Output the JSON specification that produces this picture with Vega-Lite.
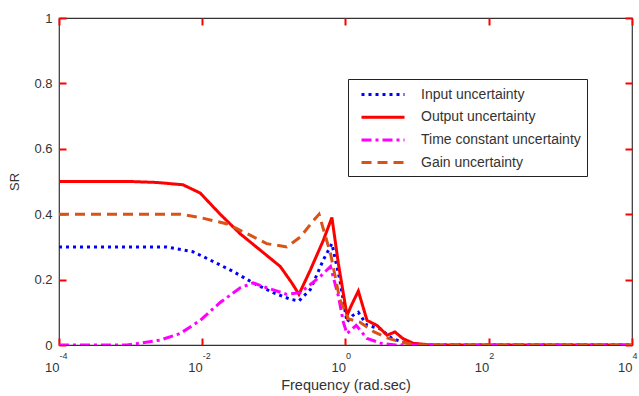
{
  "$schema": "https://vega.github.io/schema/vega-lite/v6.json",
  "width": 573,
  "height": 327,
  "autosize": {"type": "none"},
  "padding": {"left": 59, "top": 18, "right": 7, "bottom": 51},
  "background": "white",
  "config": {
    "font": "Liberation Sans",
    "view": {"stroke": "#333", "strokeWidth": 1.2},
    "axis": {"grid": false, "domain": false, "labelColor": "#333", "titleColor": "#333", "labelFont": "Liberation Sans", "titleFont": "Liberation Sans", "titleFontWeight": "normal", "labelFontSize": 13, "titleFontSize": 14.5}
  },
  "datasets": {
    "curves": [
      {"f": 0.0001, "v": 0.3, "s": "Input uncertainty"},
      {"f": 0.00316, "v": 0.3, "s": "Input uncertainty"},
      {"f": 0.00741, "v": 0.285, "s": "Input uncertainty"},
      {"f": 0.0129, "v": 0.26, "s": "Input uncertainty"},
      {"f": 0.0269, "v": 0.225, "s": "Input uncertainty"},
      {"f": 0.0513, "v": 0.19, "s": "Input uncertainty"},
      {"f": 0.0977, "v": 0.16, "s": "Input uncertainty"},
      {"f": 0.17, "v": 0.14, "s": "Input uncertainty"},
      {"f": 0.224, "v": 0.135, "s": "Input uncertainty"},
      {"f": 0.324, "v": 0.17, "s": "Input uncertainty"},
      {"f": 0.49, "v": 0.26, "s": "Input uncertainty"},
      {"f": 0.646, "v": 0.31, "s": "Input uncertainty"},
      {"f": 0.832, "v": 0.2, "s": "Input uncertainty"},
      {"f": 1.05, "v": 0.07, "s": "Input uncertainty"},
      {"f": 1.26, "v": 0.09, "s": "Input uncertainty"},
      {"f": 1.51, "v": 0.1, "s": "Input uncertainty"},
      {"f": 2.0, "v": 0.06, "s": "Input uncertainty"},
      {"f": 3.02, "v": 0.05, "s": "Input uncertainty"},
      {"f": 4.47, "v": 0.02, "s": "Input uncertainty"},
      {"f": 7.08, "v": 0.005, "s": "Input uncertainty"},
      {"f": 15, "v": 0.0, "s": "Input uncertainty"},
      {"f": 10000, "v": 0.0, "s": "Input uncertainty"},

      {"f": 0.0001, "v": 0.5, "s": "Output uncertainty"},
      {"f": 0.001, "v": 0.5, "s": "Output uncertainty"},
      {"f": 0.00234, "v": 0.497, "s": "Output uncertainty"},
      {"f": 0.00537, "v": 0.49, "s": "Output uncertainty"},
      {"f": 0.00933, "v": 0.465, "s": "Output uncertainty"},
      {"f": 0.0178, "v": 0.4, "s": "Output uncertainty"},
      {"f": 0.0339, "v": 0.34, "s": "Output uncertainty"},
      {"f": 0.0646, "v": 0.29, "s": "Output uncertainty"},
      {"f": 0.123, "v": 0.24, "s": "Output uncertainty"},
      {"f": 0.178, "v": 0.19, "s": "Output uncertainty"},
      {"f": 0.224, "v": 0.155, "s": "Output uncertainty"},
      {"f": 0.324, "v": 0.23, "s": "Output uncertainty"},
      {"f": 0.49, "v": 0.32, "s": "Output uncertainty"},
      {"f": 0.646, "v": 0.39, "s": "Output uncertainty"},
      {"f": 0.794, "v": 0.25, "s": "Output uncertainty"},
      {"f": 1.05, "v": 0.09, "s": "Output uncertainty"},
      {"f": 1.2, "v": 0.12, "s": "Output uncertainty"},
      {"f": 1.51, "v": 0.165, "s": "Output uncertainty"},
      {"f": 2.0, "v": 0.075, "s": "Output uncertainty"},
      {"f": 2.75, "v": 0.06, "s": "Output uncertainty"},
      {"f": 3.8, "v": 0.03, "s": "Output uncertainty"},
      {"f": 4.9, "v": 0.04, "s": "Output uncertainty"},
      {"f": 6.3, "v": 0.02, "s": "Output uncertainty"},
      {"f": 8.9, "v": 0.005, "s": "Output uncertainty"},
      {"f": 16, "v": 0.0, "s": "Output uncertainty"},
      {"f": 10000, "v": 0.0, "s": "Output uncertainty"},

      {"f": 0.0001, "v": 0.0, "s": "Time constant uncertainty"},
      {"f": 0.00089, "v": 0.0, "s": "Time constant uncertainty"},
      {"f": 0.00257, "v": 0.015, "s": "Time constant uncertainty"},
      {"f": 0.0049, "v": 0.035, "s": "Time constant uncertainty"},
      {"f": 0.00933, "v": 0.075, "s": "Time constant uncertainty"},
      {"f": 0.0178, "v": 0.13, "s": "Time constant uncertainty"},
      {"f": 0.0339, "v": 0.175, "s": "Time constant uncertainty"},
      {"f": 0.0513, "v": 0.19, "s": "Time constant uncertainty"},
      {"f": 0.0794, "v": 0.175, "s": "Time constant uncertainty"},
      {"f": 0.151, "v": 0.155, "s": "Time constant uncertainty"},
      {"f": 0.234, "v": 0.16, "s": "Time constant uncertainty"},
      {"f": 0.447, "v": 0.21, "s": "Time constant uncertainty"},
      {"f": 0.617, "v": 0.24, "s": "Time constant uncertainty"},
      {"f": 0.794, "v": 0.15, "s": "Time constant uncertainty"},
      {"f": 0.933, "v": 0.07, "s": "Time constant uncertainty"},
      {"f": 1.05, "v": 0.035, "s": "Time constant uncertainty"},
      {"f": 1.41, "v": 0.06, "s": "Time constant uncertainty"},
      {"f": 2.0, "v": 0.02, "s": "Time constant uncertainty"},
      {"f": 3.16, "v": 0.005, "s": "Time constant uncertainty"},
      {"f": 5.0, "v": 0.0, "s": "Time constant uncertainty"},
      {"f": 10000, "v": 0.0, "s": "Time constant uncertainty"},

      {"f": 0.0001, "v": 0.4, "s": "Gain uncertainty"},
      {"f": 0.005, "v": 0.4, "s": "Gain uncertainty"},
      {"f": 0.00933, "v": 0.39, "s": "Gain uncertainty"},
      {"f": 0.0224, "v": 0.37, "s": "Gain uncertainty"},
      {"f": 0.0427, "v": 0.34, "s": "Gain uncertainty"},
      {"f": 0.0794, "v": 0.31, "s": "Gain uncertainty"},
      {"f": 0.151, "v": 0.3, "s": "Gain uncertainty"},
      {"f": 0.234, "v": 0.33, "s": "Gain uncertainty"},
      {"f": 0.355, "v": 0.38, "s": "Gain uncertainty"},
      {"f": 0.427, "v": 0.4, "s": "Gain uncertainty"},
      {"f": 0.617, "v": 0.28, "s": "Gain uncertainty"},
      {"f": 0.832, "v": 0.14, "s": "Gain uncertainty"},
      {"f": 1.1, "v": 0.08, "s": "Gain uncertainty"},
      {"f": 1.58, "v": 0.07, "s": "Gain uncertainty"},
      {"f": 2.51, "v": 0.04, "s": "Gain uncertainty"},
      {"f": 3.98, "v": 0.02, "s": "Gain uncertainty"},
      {"f": 7.08, "v": 0.005, "s": "Gain uncertainty"},
      {"f": 11.2, "v": 0.0, "s": "Gain uncertainty"},
      {"f": 10000, "v": 0.0, "s": "Gain uncertainty"}
    ]
  },
  "data": {"name": "curves"},
  "resolve": {"axis": {"x": "independent", "y": "independent"}},
  "layer": [
    {
      "mark": {"type": "line", "strokeWidth": 3, "clip": true},
      "encoding": {
        "x": {
          "field": "f", "type": "quantitative",
          "scale": {"type": "log", "domain": [0.0001, 10000], "nice": false},
          "axis": {
            "orient": "bottom",
            "title": "Frequency (rad.sec)",
            "values": [0.0001, 0.01, 1, 100, 10000],
            "tickColor": "red", "tickSize": 7, "tickWidth": 2, "offset": -7,
            "labelPadding": 16,
            "labelAlign": "right",
            "labelDx": 3,
            "titlePadding": 4,
            "labelFlush": false,
            "labelOverlap": false,
            "labelExpr": "'10'"
          }
        },
        "y": {
          "field": "v", "type": "quantitative",
          "scale": {"domain": [0, 1], "nice": false},
          "axis": {
            "orient": "left",
            "title": "SR",
            "values": [0, 0.2, 0.4, 0.6, 0.8, 1],
            "tickColor": "red", "tickSize": 7, "tickWidth": 2, "offset": -7,
            "labelPadding": 7,
            "titlePadding": 12,
            "titleFontSize": 13,
            "format": "~g"
          }
        },
        "color": {
          "field": "s", "type": "nominal",
          "scale": {
            "domain": ["Input uncertainty", "Output uncertainty", "Time constant uncertainty", "Gain uncertainty"],
            "range": ["#0000ff", "#ff0000", "#ff00ff", "#d95319"]
          },
          "legend": {
            "title": null,
            "orient": "none",
            "legendX": 289,
            "legendY": 61,
            "symbolType": "M-0.25,0H5.125",
            "symbolSize": 256,
            "symbolStrokeWidth": 3,
            "labelFont": "Liberation Sans",
            "labelFontSize": 14,
            "labelColor": "#333",
            "labelOffset": 48,
            "rowPadding": 5.7,
            "padding": 6,
            "strokeColor": "#222",
            "fillColor": "white",
            "labelLimit": 300
          }
        },
        "strokeDash": {
          "field": "s", "type": "nominal",
          "scale": {
            "domain": ["Input uncertainty", "Output uncertainty", "Time constant uncertainty", "Gain uncertainty"],
            "range": [[3, 4], [1, 0], [10, 4, 3, 4], [10, 6]]
          },
          "legend": {"title": null}
        }
      }
    },
    {
      "mark": {"type": "point", "opacity": 0, "size": 0},
      "encoding": {
        "x": {
          "field": "f", "type": "quantitative",
          "scale": {"type": "log", "domain": [0.0001, 10000], "nice": false},
          "axis": {
            "orient": "bottom",
            "title": null,
            "ticks": false,
            "offset": 0,
            "values": [0.0001, 0.01, 1, 100, 10000],
            "labelPadding": 6,
            "labelAlign": "left",
            "labelDx": 4,
            "labelFontSize": 9,
            "labelFlush": false,
            "labelOverlap": false,
            "labelExpr": "datum.value < 0.001 ? '-4' : datum.value < 0.1 ? '-2' : datum.value < 10 ? '0' : datum.value < 1000 ? '2' : '4'"
          }
        },
        "y": {
          "field": "v", "type": "quantitative",
          "scale": {"domain": [0, 1], "nice": false},
          "axis": {
            "orient": "right",
            "title": null,
            "labels": false,
            "tickColor": "red", "tickSize": 7, "tickWidth": 2, "offset": -7,
            "values": [0, 0.2, 0.4, 0.6, 0.8, 1]
          }
        }
      }
    },
    {
      "mark": {"type": "point", "opacity": 0, "size": 0},
      "encoding": {
        "x": {
          "field": "f", "type": "quantitative",
          "scale": {"type": "log", "domain": [0.0001, 10000], "nice": false},
          "axis": {
            "orient": "top",
            "title": null,
            "labels": false,
            "tickColor": "red", "tickSize": 7, "tickWidth": 2, "offset": -7,
            "values": [0.0001, 0.01, 1, 100, 10000]
          }
        },
        "y": {
          "field": "v", "type": "quantitative",
          "scale": {"domain": [0, 1], "nice": false},
          "axis": null
        }
      }
    }
  ]
}
